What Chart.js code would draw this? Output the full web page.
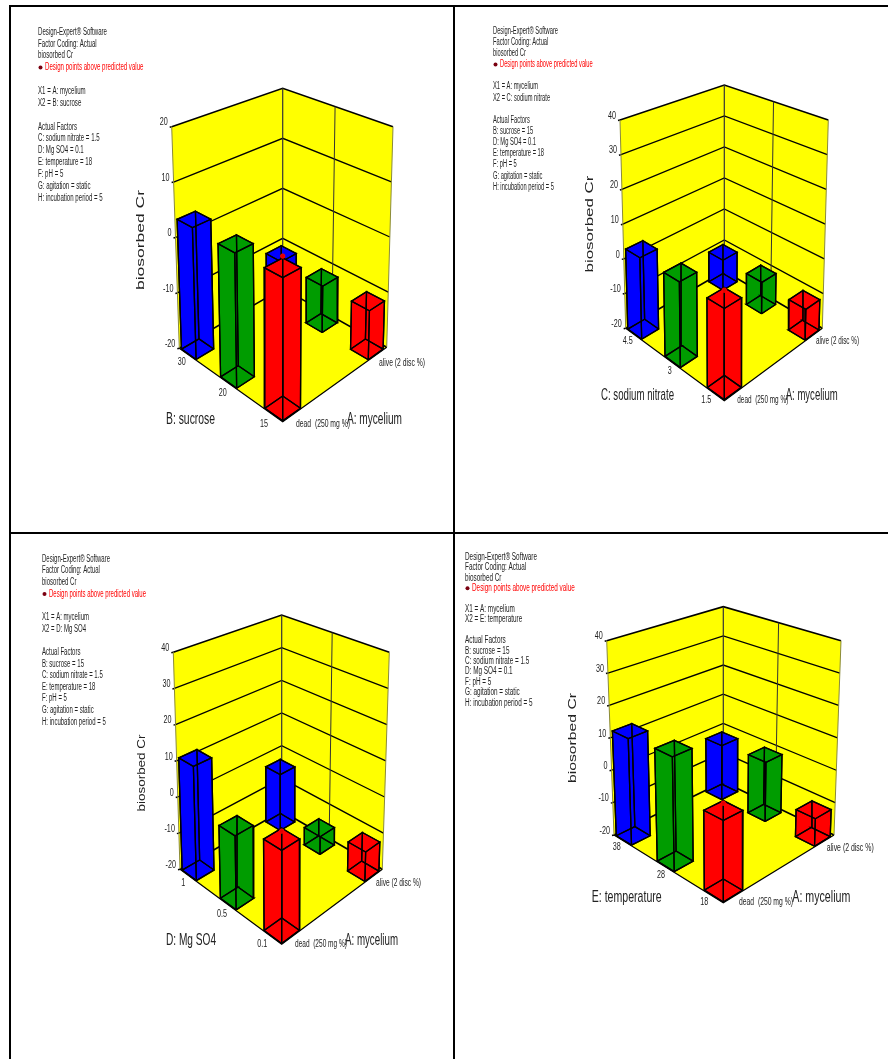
<!DOCTYPE html>
<html>
<head>
<meta charset="utf-8">
<title>biosorbed Cr</title>
<script src="https://cdn.jsdelivr.net/npm/chart.js"></script>
<style>
    html, body { margin: 0; padding: 0; background: #fff; overflow: hidden; }
    body { width: 888px; height: 1059px; position: relative; }
    canvas { position: absolute; }
    .rule { position: absolute; background: #000; }
</style>
</head>
<body>
<canvas id="c0"></canvas>
<canvas id="c1"></canvas>
<canvas id="c2"></canvas>
<canvas id="c3"></canvas>
<div class="rule" style="left:9px;top:5px;width:879px;height:2px"></div>
<div class="rule" style="left:9px;top:532px;width:879px;height:2px"></div>
<div class="rule" style="left:9px;top:5px;width:2px;height:1054px"></div>
<div class="rule" style="left:453px;top:5px;width:2px;height:1054px"></div>
<script>
// A: mycelium levels, shared by all four plots
const myceliumLevels = ['dead  (250 mg %)', 'alive (2 disc %)'];

// second factor levels, front to back
const sucroseLevels = ['15', '20', '30'];
const nitrateLevels = ['1.5', '3', '4.5'];
const mgso4Levels = ['0.1', '0.5', '1'];
const temperatureLevels = ['18', '28', '38'];

// biosorbed Cr, same order as the levels
const sucroseDead = [3.2, 3.0, 3.4];
const sucroseAlive = [-11.3, -11.4, -11.0];
const nitrateDead = [3.2, 3.0, 3.0];
const nitrateAlive = [-11.3, -10.7, -10.7];
const mgso4Dead = [3.0, -0.8, 11.0];
const mgso4Alive = [-12.0, -15.0, -3.5];
const temperatureDead = [2.4, 13.2, 12.3];
const temperatureAlive = [-11.7, -1.3, -2.2];

// design point sitting above the front red bar
const designPoints = [5.1, 5.2, 5.0, 4.4];

const ticksShort = [-20, -10, 0, 10, 20];
const ticksLong = [-20, -10, 0, 10, 20, 30, 40];

const header = ['Design-Expert® Software', 'Factor Coding: Actual', 'biosorbed Cr', 'Design points above predicted value'];
const notesA = ['X1 = A: mycelium', 'X2 = B: sucrose', '', 'Actual Factors', 'C: sodium nitrate = 1.5', 'D: Mg SO4 = 0.1', 'E: temperature = 18', 'F: pH = 5', 'G: agitation = static', 'H: incubation period = 5'];
const notesB = ['X1 = A: mycelium', 'X2 = C: sodium nitrate', '', 'Actual Factors', 'B: sucrose = 15', 'D: Mg SO4 = 0.1', 'E: temperature = 18', 'F: pH = 5', 'G: agitation = static', 'H: incubation period = 5'];
const notesC = ['X1 = A: mycelium', 'X2 = D: Mg SO4', '', 'Actual Factors', 'B: sucrose = 15', 'C: sodium nitrate = 1.5', 'E: temperature = 18', 'F: pH = 5', 'G: agitation = static', 'H: incubation period = 5'];
const notesD = ['X1 = A: mycelium', 'X2 = E: temperature', '', 'Actual Factors', 'B: sucrose = 15', 'C: sodium nitrate = 1.5', 'D: Mg SO4 = 0.1', 'F: pH = 5', 'G: agitation = static', 'H: incubation period = 5'];

const barColors = ['#ff0000', '#009c00', '#0000ff'];
const wallColor = '#ffff00';
const textColor = '#222';

// bar footprint on the floor, floor runs 0..1 each way
const barHalf = 0.078;
const uCentres = [0.083, 0.89];
const vCentres = [0.083, 0.5, 0.905];

const plots = [
    {
        box: { left: 0, top: 0, width: 454, height: 533 },
        corners: { F: [282.7, 421.7], R: [386.7, 347.3], B: [282.7, 288.3], L: [179.3, 348.3], TL: [171.7, 126.7], TB: [282.7, 88.3], TR: [393, 126.7] },
        ticks: ticksShort, levels: sucroseLevels, dead: sucroseDead, alive: sucroseAlive,
        factor: 'B: sucrose', notes: notesA, design: designPoints[0],
        info: { x: 38, y: 32, step: 11.86, width: 69 },
        levelPos: [[264, 424], [222.7, 393], [181.7, 362]],
        deadPos: [296, 424, 54], alivePos: [379, 363, 46],
        aTitle: [347, 419, 55], fTitle: [166, 419, 49], zTitle: [140.5, 240, 100]
    },
    {
        box: { left: 454, top: 0, width: 434, height: 533 },
        corners: { F: [724.3, 400.7], R: [822.3, 328.3], B: [724.3, 271], L: [625.7, 328.3], TL: [620, 120], TB: [724.3, 85], TR: [828.3, 120] },
        ticks: ticksLong, levels: nitrateLevels, dead: nitrateDead, alive: nitrateAlive,
        factor: 'C: sodium nitrate', notes: notesB, design: designPoints[1],
        info: { x: 493, y: 31, step: 11.14, width: 65 },
        levelPos: [[706.3, 400.7], [669.7, 371.7], [627.7, 341.7]],
        deadPos: [737.3, 400.7, 51], alivePos: [816, 341.7, 43],
        aTitle: [785.7, 395, 52], fTitle: [601, 395, 73], zTitle: [590, 224, 97]
    },
    {
        box: { left: 0, top: 533, width: 454, height: 526 },
        corners: { F: [281.7, 944.3], R: [382.3, 869.3], B: [281.7, 811], L: [180, 869.3], TL: [173.3, 652.3], TB: [281.7, 615], TR: [389.3, 652.3] },
        ticks: ticksLong, levels: mgso4Levels, dead: mgso4Dead, alive: mgso4Alive,
        factor: 'D: Mg SO4', notes: notesC, design: designPoints[2],
        info: { x: 42, y: 559, step: 11.64, width: 68 },
        levelPos: [[262.3, 944.3], [222, 914.3], [183.3, 883.3]],
        deadPos: [295, 944.3, 52], alivePos: [376, 883.7, 45],
        aTitle: [345, 940, 53], fTitle: [166, 940, 50], zTitle: [141.5, 773, 77]
    },
    {
        box: { left: 454, top: 533, width: 434, height: 526 },
        corners: { F: [723.3, 902.7], R: [834, 835], B: [723.3, 781.7], L: [614, 835], TL: [606.7, 640.7], TB: [723.3, 606.7], TR: [841, 640.7] },
        ticks: ticksLong, levels: temperatureLevels, dead: temperatureDead, alive: temperatureAlive,
        factor: 'E: temperature', notes: notesD, design: designPoints[3],
        info: { x: 465, y: 557, step: 10.43, width: 72 },
        levelPos: [[704.3, 902.3], [661, 875], [616.7, 847.3]],
        deadPos: [739, 902.3, 54], alivePos: [826.7, 848, 47],
        aTitle: [792.3, 897, 58], fTitle: [591.7, 897, 70], zTitle: [572.7, 738, 90]
    }
];

// maps the unit square onto a four corner shape
function quadMap(p00, p10, p11, p01) {
    const [x0, y0] = p00, [x1, y1] = p10, [x2, y2] = p11, [x3, y3] = p01;
    const dx1 = x1 - x2, dx2 = x3 - x2, sx = x0 - x1 + x2 - x3;
    const dy1 = y1 - y2, dy2 = y3 - y2, sy = y0 - y1 + y2 - y3;
    const den = dx1 * dy2 - dx2 * dy1;
    const g = (sx * dy2 - dx2 * sy) / den;
    const h = (dx1 * sy - sx * dy1) / den;
    const a = x1 - x0 + g * x1, b = x3 - x0 + h * x3;
    const d = y1 - y0 + g * y1, e = y3 - y0 + h * y3;
    return (u, v) => {
        const w = g * u + h * v + 1;
        return [(a * u + b * v + x0) / w, (d * u + e * v + y0) / w];
    };
}

// box projection: floor and lid are each a quad, z runs straight between them
function makeProjection(c) {
    const sideHeight = ((c.L[1] - c.TL[1]) + (c.R[1] - c.TR[1])) / 2;
    const backHeight = c.B[1] - c.TB[1];
    const frontHeight = 1 / (2 / sideHeight - 1 / backHeight);
    const TF = [c.F[0], c.F[1] - frontHeight];
    const floor = quadMap(c.F, c.R, c.B, c.L);
    const lid = quadMap(TF, c.TR, c.TB, c.TL);
    return (u, v, z) => {
        const p0 = floor(u, v), p1 = lid(u, v);
        return { x: p0[0] + (p1[0] - p0[0]) * z, y: p0[1] + (p1[1] - p0[1]) * z };
    };
}

function polyFill(points, color) {
    return { data: points.concat([points[0]]), showLine: true, fill: 'shape', backgroundColor: color, borderWidth: 0, borderColor: 'transparent', pointRadius: 0 };
}

function line(points, color, width) {
    return { data: points, showLine: true, fill: false, borderColor: color, borderWidth: width, pointRadius: 0 };
}

function buildDatasets(plot) {
    const project = makeProjection(plot.corners);
    const zMin = plot.ticks[0], zMax = plot.ticks[plot.ticks.length - 1];
    const zNorm = val => (val - zMin) / (zMax - zMin);
    const sets = [];

    // walls and floor
    sets.push(polyFill([project(0, 1, 0), project(1, 1, 0), project(1, 1, 1), project(0, 1, 1)], wallColor));
    sets.push(polyFill([project(1, 1, 0), project(1, 0, 0), project(1, 0, 1), project(1, 1, 1)], wallColor));
    sets.push(polyFill([project(0, 0, 0), project(1, 0, 0), project(1, 1, 0), project(0, 1, 0)], wallColor));

    plot.ticks.forEach((t, i) => {
        const z = zNorm(t);
        const w = (i === 0 || i === plot.ticks.length - 1) ? 1.6 : 1.3;
        sets.push(line([project(0, 1, z), project(1, 1, z), project(1, 0, z)], '#000', w));
        const p = project(0, 1, z);
        sets.push(line([{ x: p.x - 2, y: p.y + 0.5 }, p], '#000', 1.5));
    });

    // upright edges, the outer ones are faint
    sets.push(line([project(0, 1, 0), project(0, 1, 1)], '#8a8a3a', 1));
    sets.push(line([project(1, 0, 0), project(1, 0, 1)], '#8a8a3a', 1));
    sets.push(line([project(1, 1, 0), project(1, 1, 1)], '#333', 1.2));
    sets.push(line([project(1, 0.5, 0), project(1, 0.5, 1)], '#333', 1));

    // floor front edges
    sets.push(line([project(0, 1, 0), project(0, 0, 0), project(1, 0, 0)], '#000', 1.2));

    // back to front so nearer bars cover farther ones
    const order = [[1, 2], [0, 2], [1, 1], [0, 1], [1, 0], [0, 0]];
    order.forEach(([ui, vi]) => {
        const val = (ui === 0 ? plot.dead : plot.alive)[vi];
        const uc = uCentres[ui], vc = vCentres[vi];
        const z = zNorm(val);
        const u0 = uc - barHalf, u1 = uc + barHalf, v0 = vc - barHalf, v1 = vc + barHalf;
        const q = project;
        const color = barColors[vi];
        const faces = [
            [q(u0, v0, 0), q(u1, v0, 0), q(u1, v1, 0), q(u0, v1, 0)],
            [q(u0, v1, 0), q(u1, v1, 0), q(u1, v1, z), q(u0, v1, z)],
            [q(u1, v0, 0), q(u1, v1, 0), q(u1, v1, z), q(u1, v0, z)],
            [q(u0, v0, 0), q(u1, v0, 0), q(u1, v0, z), q(u0, v0, z)],
            [q(u0, v0, 0), q(u0, v1, 0), q(u0, v1, z), q(u0, v0, z)],
            [q(u0, v0, z), q(u1, v0, z), q(u1, v1, z), q(u0, v1, z)]
        ];
        faces.forEach(f => sets.push(polyFill(f, color)));
        // wireframe goes on after the fills, hidden edges stay visible
        faces.forEach(f => sets.push(line(f.concat([f[0]]), '#000', 1.3)));
        if (ui === 0 && vi === 0) {
            sets.push({
                data: [project(uc, vc, zNorm(plot.design))], showLine: false, pointRadius: 2.2,
                pointBackgroundColor: '#e00000', pointBorderColor: '#ff0000', pointBorderWidth: 1
            });
        }
    });

    // chart.js paints the first dataset last
    return { sets: sets.reverse(), project, zNorm };
}

function fitText(ctx, str, x, y, width, font, color, rotate) {
    ctx.save();
    ctx.font = font;
    ctx.fillStyle = color;
    ctx.textBaseline = 'middle';
    const sx = width / ctx.measureText(str).width;
    ctx.translate(x, y);
    if (rotate) {
        ctx.rotate(-Math.PI / 2);
        ctx.textAlign = 'center';
    } else {
        ctx.textAlign = 'left';
    }
    ctx.scale(sx, 1);
    ctx.fillText(str, 0, 0);
    ctx.restore();
}

function squeezed(ctx, str, x, y, font, sx, align, color) {
    ctx.save();
    ctx.font = font;
    ctx.fillStyle = color || textColor;
    ctx.textBaseline = 'middle';
    ctx.textAlign = align;
    ctx.translate(x, y);
    ctx.scale(sx, 1);
    ctx.fillText(str, 0, 0);
    ctx.restore();
}

function labelPlugin(plot, project, zNorm) {
    return {
        id: 'labels',
        afterDraw(chart) {
            const { ctx, scales } = chart;
            const px = v => scales.x.getPixelForValue(v);
            const py = v => scales.y.getPixelForValue(v);
            const small = '10px "Liberation Sans", Arial, sans-serif';
            const big = '17px "Liberation Sans", Arial, sans-serif';

            // note block top left
            ctx.font = small;
            const noteScale = plot.info.width / ctx.measureText(header[0]).width;
            const rows = header.concat([''], plot.notes);
            rows.forEach((row, i) => {
                if (!row) return;
                const y = plot.info.y + i * plot.info.step;
                if (i === 3) {
                    squeezed(ctx, row, px(plot.info.x + 7), py(y), small, noteScale, 'left', '#ff0000');
                    ctx.beginPath();
                    ctx.arc(px(plot.info.x + 2.5), py(y), 2, 0, Math.PI * 2);
                    ctx.fillStyle = '#7a0010';
                    ctx.fill();
                } else {
                    squeezed(ctx, row, px(plot.info.x), py(y), small, noteScale, 'left');
                }
            });

            // z axis tick labels follow the left wall edge
            plot.ticks.forEach(t => {
                const p = project(0, 1, zNorm(t));
                squeezed(ctx, String(t), px(p.x - 4), py(p.y - 4), small, 0.72, 'right');
            });

            plot.levels.forEach((lvl, i) => {
                const [x, y] = plot.levelPos[i];
                squeezed(ctx, lvl, px(x), py(y), small, 0.72, 'center');
            });

            const [dx, dy, dw] = plot.deadPos;
            fitText(ctx, myceliumLevels[0], px(dx), py(dy), dw, small, textColor);
            const [ax, ay, aw] = plot.alivePos;
            fitText(ctx, myceliumLevels[1], px(ax), py(ay), aw, small, textColor);

            const [tx, ty, tw] = plot.aTitle;
            fitText(ctx, 'A: mycelium', px(tx), py(ty), tw, big, textColor);
            const [fx, fy, fw] = plot.fTitle;
            fitText(ctx, plot.factor, px(fx), py(fy), fw, big, textColor);
            const [zx, zy, zw] = plot.zTitle;
            fitText(ctx, 'biosorbed Cr', px(zx), py(zy), zw, '11.5px "Liberation Sans", Arial, sans-serif', textColor, true);
        }
    };
}

plots.forEach((plot, i) => {
    const canvas = document.getElementById('c' + i);
    const { sets, project, zNorm } = buildDatasets(plot);
    const b = plot.box;
    canvas.style.left = b.left + 'px';
    canvas.style.top = b.top + 'px';
    canvas.width = b.width;
    canvas.height = b.height;
    new Chart(canvas.getContext('2d'), {
        type: 'scatter',
        data: { datasets: sets },
        options: {
            responsive: false,
            animation: false,
            layout: { padding: 0, autoPadding: false },
            elements: { line: { tension: 0 } },
            scales: {
                x: { type: 'linear', display: false, min: b.left, max: b.left + b.width },
                y: { type: 'linear', display: false, min: b.top, max: b.top + b.height, reverse: true }
            },
            plugins: {
                legend: { display: false },
                tooltip: { enabled: false }
            }
        },
        plugins: [labelPlugin(plot, project, zNorm)]
    });
});
</script>
</body>
</html>
